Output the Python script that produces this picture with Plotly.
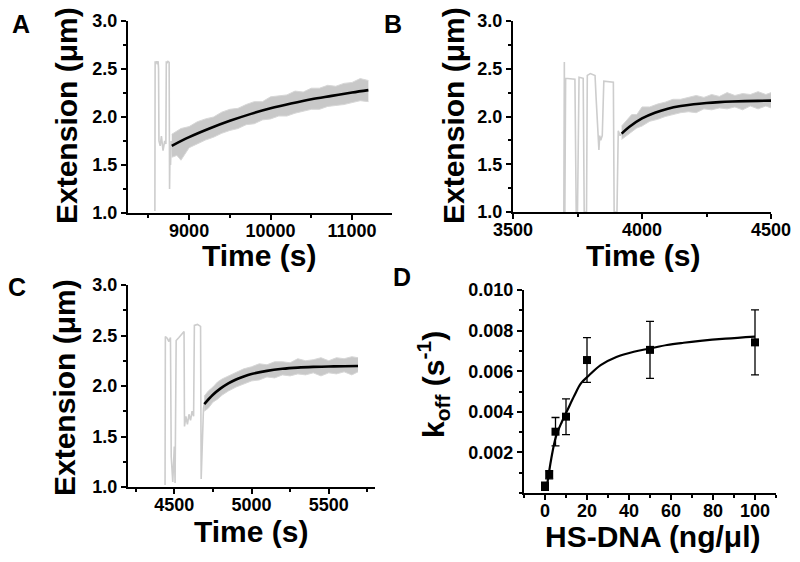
import plotly.graph_objects as go

FONT = "Liberation Sans, Arial, sans-serif"

# ---------------- Panel A ----------------
a_pre_t = [8580, 8583, 8590, 8600, 8610, 8620, 8625, 8630, 8645, 8660, 8680, 8700, 8715, 8720, 8725, 8740, 8755, 8760, 8765, 8772, 8780, 8787]
a_pre_v = [1.02, 2.58, 2.56, 2.58, 2.55, 2.58, 2.50, 1.75, 1.70, 1.80, 1.65, 1.75, 1.72, 2.58, 2.56, 2.58, 2.57, 1.25, 1.60, 1.50, 1.75, 1.70]
a_band_t = [8787, 8850, 8900, 9000, 9100, 9200, 9300, 9400, 9500, 9600, 9700, 9800, 9900, 10000, 10100, 10200, 10300, 10400, 10500, 10600, 10700, 10800, 10900, 11000, 11100, 11200]
a_band_hi = [1.82, 1.85, 1.88, 1.90, 1.95, 1.98, 2.00, 2.05, 2.08, 2.09, 2.13, 2.16, 2.16, 2.21, 2.22, 2.23, 2.27, 2.26, 2.30, 2.30, 2.33, 2.32, 2.35, 2.36, 2.40, 2.38]
a_band_lo = [1.58, 1.60, 1.55, 1.68, 1.72, 1.76, 1.79, 1.83, 1.86, 1.88, 1.92, 1.93, 1.97, 1.98, 2.01, 2.01, 2.04, 2.06, 2.08, 2.08, 2.11, 2.12, 2.13, 2.15, 2.17, 2.16]
a_fit_t = [8787, 9000, 9250, 9500, 9750, 10000, 10250, 10500, 10750, 11000, 11200]
a_fit_v = [1.70, 1.79, 1.88, 1.96, 2.03, 2.09, 2.14, 2.185, 2.22, 2.255, 2.28]

# ---------------- Panel B ----------------
b_pre_t = [3697, 3699, 3701, 3704, 3740, 3745, 3750, 3756, 3772, 3776, 3785, 3788, 3800, 3818, 3822, 3828, 3833, 3836, 3840, 3846, 3852, 3889, 3892, 3903, 3908, 3915, 3921]
b_pre_v = [1.00, 2.57, 1.00, 2.40, 2.39, 1.00, 1.00, 2.41, 2.40, 1.00, 1.00, 2.43, 2.45, 2.43, 2.20, 1.90, 1.65, 1.80, 1.75, 1.80, 2.37, 2.36, 1.00, 1.00, 1.85, 1.80, 1.82]
b_band_t = [3921, 3940, 3960, 3980, 4000, 4030, 4060, 4090, 4120, 4150, 4180, 4210, 4240, 4270, 4300, 4330, 4360, 4390, 4420, 4450, 4480, 4500]
b_band_hi = [1.90, 1.96, 2.02, 2.02, 2.10, 2.10, 2.13, 2.15, 2.18, 2.18, 2.20, 2.22, 2.20, 2.23, 2.21, 2.25, 2.22, 2.24, 2.23, 2.26, 2.23, 2.25]
b_band_lo = [1.76, 1.80, 1.84, 1.88, 1.90, 1.95, 1.97, 2.00, 2.02, 2.04, 2.05, 2.04, 2.08, 2.07, 2.09, 2.08, 2.10, 2.07, 2.11, 2.08, 2.11, 2.09]
b_fit_t = [3921, 3950, 4000, 4050, 4100, 4150, 4200, 4250, 4300, 4350, 4400, 4450, 4500]
b_fit_v = [1.82, 1.89, 1.98, 2.04, 2.082, 2.11, 2.129, 2.142, 2.151, 2.157, 2.161, 2.164, 2.166]

# ---------------- Panel C ----------------
c_pre_t = [4440, 4442, 4455, 4465, 4475, 4480, 4490, 4500, 4505, 4512, 4530, 4550, 4563, 4566, 4575, 4585, 4595, 4605, 4615, 4625, 4630, 4650, 4670, 4674, 4680, 4689, 4694]
c_pre_v = [1.02, 2.49, 2.47, 2.44, 2.48, 1.30, 1.05, 1.40, 1.04, 2.45, 2.48, 2.52, 2.54, 1.60, 1.70, 1.62, 1.72, 1.66, 1.75, 1.70, 2.60, 2.61, 2.59, 1.08, 1.40, 1.78, 1.82]
c_band_t = [4694, 4720, 4750, 4780, 4810, 4850, 4900, 4950, 5000, 5050, 5100, 5150, 5200, 5250, 5300, 5350, 5400, 5450, 5500, 5550, 5600, 5650, 5690]
c_band_hi = [1.90, 1.95, 1.99, 2.04, 2.07, 2.10, 2.14, 2.17, 2.19, 2.22, 2.21, 2.24, 2.24, 2.23, 2.27, 2.25, 2.26, 2.28, 2.25, 2.28, 2.27, 2.29, 2.28]
c_band_lo = [1.75, 1.78, 1.84, 1.87, 1.91, 1.95, 1.99, 2.02, 2.05, 2.06, 2.09, 2.08, 2.11, 2.10, 2.12, 2.11, 2.13, 2.10, 2.13, 2.12, 2.14, 2.11, 2.14]
c_fit_t = [4694, 4750, 4800, 4850, 4900, 4950, 5000, 5100, 5200, 5300, 5400, 5500, 5600, 5690]
c_fit_v = [1.82, 1.913, 1.976, 2.026, 2.064, 2.094, 2.118, 2.15, 2.17, 2.182, 2.189, 2.193, 2.196, 2.198]

# ---------------- Panel D ----------------
d_conc = [0, 2, 5, 10, 20, 50, 100]
d_koff = [0.00033, 0.0009, 0.00302, 0.00376, 0.00655, 0.00705, 0.00742]
d_err = [0.0002, 0.0002, 0.0007, 0.00088, 0.0011, 0.0014, 0.0016]
d_fit_x = [0.9, 3, 5.2, 8, 10.7, 14, 17.1, 21, 26.5, 34, 42.3, 50, 58.1, 66, 73.9, 86, 100]
d_fit_y = [0.00031, 0.0017, 0.00277, 0.0035, 0.00409, 0.0048, 0.0054, 0.0058, 0.0063, 0.0067, 0.00696, 0.00712, 0.00729, 0.0074, 0.00749, 0.0076, 0.0077]

W, H = 800, 562
def px(x):
    return x / W
def py(y):
    return 1 - y / H

GREY_LINE = "rgb(205,205,205)"
BAND = "rgb(200,200,200)"
BAND_EDGE = "rgb(215,215,215)"

fig = go.Figure()

def add_trace_panel(pre_t, pre_v, bt, bhi, blo, ft, fv, xa, ya):
    fig.add_trace(go.Scatter(x=pre_t, y=pre_v, mode="lines", line=dict(color=GREY_LINE, width=1.6),
                             xaxis=xa, yaxis=ya, hoverinfo="skip", showlegend=False))
    fig.add_trace(go.Scatter(x=bt, y=bhi, mode="lines", line=dict(color=BAND_EDGE, width=1),
                             xaxis=xa, yaxis=ya, hoverinfo="skip", showlegend=False))
    fig.add_trace(go.Scatter(x=bt, y=blo, mode="lines", line=dict(color=BAND_EDGE, width=1),
                             fill="tonexty", fillcolor=BAND,
                             xaxis=xa, yaxis=ya, hoverinfo="skip", showlegend=False))
    fig.add_trace(go.Scatter(x=ft, y=fv, mode="lines", line=dict(color="black", width=2.6, shape="spline"),
                             xaxis=xa, yaxis=ya, hoverinfo="skip", showlegend=False))

add_trace_panel(a_pre_t, a_pre_v, a_band_t, a_band_hi, a_band_lo, a_fit_t, a_fit_v, "x", "y")
add_trace_panel(b_pre_t, b_pre_v, b_band_t, b_band_hi, b_band_lo, b_fit_t, b_fit_v, "x2", "y2")
add_trace_panel(c_pre_t, c_pre_v, c_band_t, c_band_hi, c_band_lo, c_fit_t, c_fit_v, "x3", "y3")

fig.add_trace(go.Scatter(x=d_fit_x, y=d_fit_y, mode="lines", line=dict(color="black", width=2.2, shape="spline"),
                         xaxis="x4", yaxis="y4", hoverinfo="skip", showlegend=False))
fig.add_trace(go.Scatter(x=d_conc, y=d_koff, mode="markers",
                         marker=dict(symbol="square", size=8, color="black"),
                         error_y=dict(type="data", array=d_err, color="black", thickness=1.3, width=4),
                         xaxis="x4", yaxis="y4", showlegend=False))

def tfont():
    return dict(family=FONT, size=18, color="black", weight=700)

def common():
    return dict(showline=True, linecolor="black", linewidth=2.2, ticks="outside", ticklen=5, tickwidth=2,
                tickcolor="black", showgrid=False, zeroline=False, tickfont=tfont(), mirror=False,
                automargin=False, ticklabeloverflow="allow")

def xax(dom, rng, dtick, mdtick, anchor):
    d = common()
    d.update(domain=dom, range=rng, dtick=dtick, tick0=0, anchor=anchor, tickformat="d",
             ticklabelstandoff=-5,
             minor=dict(ticks="outside", ticklen=3, tickwidth=1.5, tickcolor="black", dtick=mdtick, tick0=0))
    return d

def yax(dom, rng, tickvals, mdtick, anchor, fmt):
    d = common()
    d.update(domain=dom, range=rng, tickvals=tickvals, tickformat=fmt, anchor=anchor,
             minor=dict(ticks="outside", ticklen=3, tickwidth=1.5, tickcolor="black", dtick=mdtick, tick0=0))
    return d

ext_ticks = [1.0, 1.5, 2.0, 2.5, 3.0]
fig.update_layout(
    width=W, height=H, margin=dict(l=0, r=0, t=0, b=0, autoexpand=False),
    plot_bgcolor="white", paper_bgcolor="white", showlegend=False,
    xaxis=xax([px(128), px(392)], [8250, 11490], 1000, 500, "y"),
    yaxis=yax([py(213), py(21)], [1.0, 3.0], ext_ticks, 0.25, "x", ".1f"),
    xaxis2=xax([px(513), px(771)], [3500, 4500], 500, 250, "y2"),
    yaxis2=yax([py(212), py(21)], [1.0, 3.0], ext_ticks, 0.25, "x2", ".1f"),
    xaxis3=xax([px(128), px(375)], [4200, 5800], 500, 250, "y3"),
    yaxis3=yax([py(487), py(285)], [1.0, 3.0], ext_ticks, 0.25, "x3", ".1f"),
    xaxis4=xax([px(524), px(776)], [-10, 110], 20, 10, "y4"),
    yaxis4=yax([py(493), py(290)], [0, 0.010], [0.002, 0.004, 0.006, 0.008, 0.010], 0.001, "x4", ".3f"),
)

def ann(text, x, y, size, angle=0):
    fig.add_annotation(text=text, x=px(x), y=py(y), xref="paper", yref="paper", showarrow=False,
                       xanchor="center", yanchor="middle", textangle=angle,
                       font=dict(family=FONT, size=size, color="black", weight=700))

# panel letters
ann("A", 21, 24, 25)
ann("B", 393, 24, 25)
ann("C", 17, 287, 25)
ann("D", 402, 277, 25)

# axis titles
ann("Time (s)", 259, 255, 30)
ann("Time (s)", 643, 255, 30)
ann("Time (s)", 251, 531, 30)
ann("HS-DNA (ng/\u03bcl)", 653, 536, 30)
ann("Extension (\u03bcm)", 66, 116, 30, -90)
ann("Extension (\u03bcm)", 453, 116, 30, -90)
ann("Extension (\u03bcm)", 64, 388, 30, -90)
ann("k<sub>off</sub> (s<sup>-1</sup>)", 433, 385, 30, -90)

fig.write_html("out.html", config={"displayModeBar": False},
               post_script="document.body.style.margin='0';document.body.style.overflow='hidden';")
